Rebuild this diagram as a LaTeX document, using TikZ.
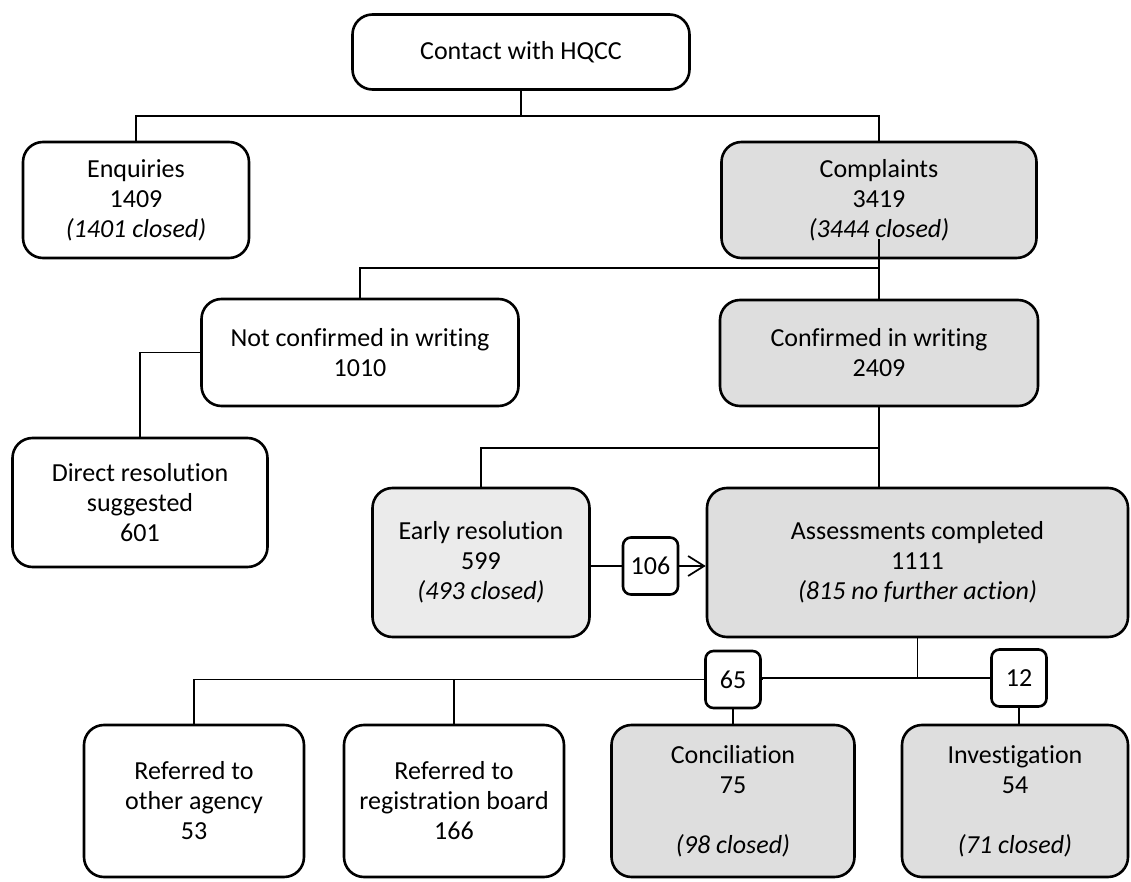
\documentclass[tikz,border=0pt]{standalone}
\usepackage{fontspec}
\setmainfont{Carlito}[Ligatures=NoCommon]
\usetikzlibrary{arrows.meta}
\definecolor{boxgray}{RGB}{222,222,222}
\definecolor{boxlight}{RGB}{235,235,235}

\begin{document}
\begin{tikzpicture}[x=0.5pt,y=-0.5pt,
  box/.style={draw, line width=1.3pt, rounded corners=10pt, align=center, inner sep=0pt,
    font=\fontsize{13}{15}\selectfont},
  grey/.style={box, fill=boxgray},
  light/.style={box, fill=boxlight},
  count/.style={draw, line width=1.3pt, rounded corners=4pt, fill=white, inner sep=0pt,
    minimum width=27.5pt, minimum height=28.5pt, font=\fontsize{13}{15}\selectfont},
  link/.style={line width=0.85pt}]
\useasboundingbox (0,0) rectangle (1131,882);

% top levels
\node[box, minimum width=168.5pt, minimum height=37.5pt] (contact) at (521,52) {Contact with HQCC};
\node[box, minimum width=113pt, minimum height=58pt] (enquiries) at (136,200) {Enquiries\\1409\\\textit{(1401 closed)}};
\node[grey, minimum width=157.5pt, minimum height=58pt] (complaints) at (879,200) {Complaints\\3419\\\textit{(3444 closed)}};
\node[box, minimum width=158.5pt, minimum height=53.5pt] (notconf) at (360,352.5) {Not confirmed in writing\\1010};
\node[grey, minimum width=159pt, minimum height=53pt] (conf) at (879,353) {Confirmed in writing\\2409};
\node[box, minimum width=127.5pt, minimum height=64.5pt] (direct) at (140,502.5) {Direct resolution\\suggested\\601};
\node[light, minimum width=108.5pt, minimum height=74.5pt] (early) at (481,562.5) {Early resolution\\599\\\textit{(493 closed)}};
\node[grey, minimum width=210.5pt, minimum height=74.5pt] (assess) at (917.5,562.5) {Assessments completed\\1111\\\textit{(815 no further action)}};

% counts
\node[count] (n106) at (650.5,566) {106};
\node[count] (n65) at (733,679.5) {65};
\node[count] (n12) at (1019,678) {12};

% bottom row
\node[box, minimum width=110pt, minimum height=76pt] (other) at (194,801) {Referred to\\other agency\\53};
\node[box, minimum width=110pt, minimum height=76pt] (board) at (454,801) {Referred to\\registration board\\166};
\node[grey, minimum width=121.5pt, minimum height=76pt] (concil) at (733,801) {Conciliation\\75\\ \\\textit{(98 closed)}};
\node[grey, minimum width=113pt, minimum height=76pt] (invest) at (1015,801) {Investigation\\54\\ \\\textit{(71 closed)}};

% connectors
\coordinate (bus1) at (521,116);
\draw[link] (contact.south) -- (bus1);
\draw[link] (enquiries.north) |- (bus1) -| (complaints.north);

\coordinate (cin) at ([yshift=10pt]complaints.south);
\coordinate (bus2) at (879,268);
\draw[link] (cin) -- (conf.north);
\draw[link] (notconf.north) |- (bus2);
\draw[link] (notconf.west) -| (direct.north);

\coordinate (bus3) at (879,448);
\draw[link] (conf.south) -- (conf.south |- assess.north);
\draw[link] (early.north) |- (bus3);

\draw[link] (early.east |- n106.west) -- (n106.west);
\draw[link, -{Straight Barb[length=8pt,width=10pt]}] (n106.east) -- (assess.west |- n106.east);

\draw[link] (assess.south) -- (assess.south |- n12.west);
\draw[link] (other.north) |- (n65.west);
\draw[link] (board.north) -- (board.north |- n65.west);
\draw[link] (n65.east) -- (n65.east |- n12.west) -- (n12.west);
\draw[link] (n65.south) -- (concil.north);
\draw[link] (n12.south) -- (n12.south |- invest.north);
\end{tikzpicture}
\end{document}
